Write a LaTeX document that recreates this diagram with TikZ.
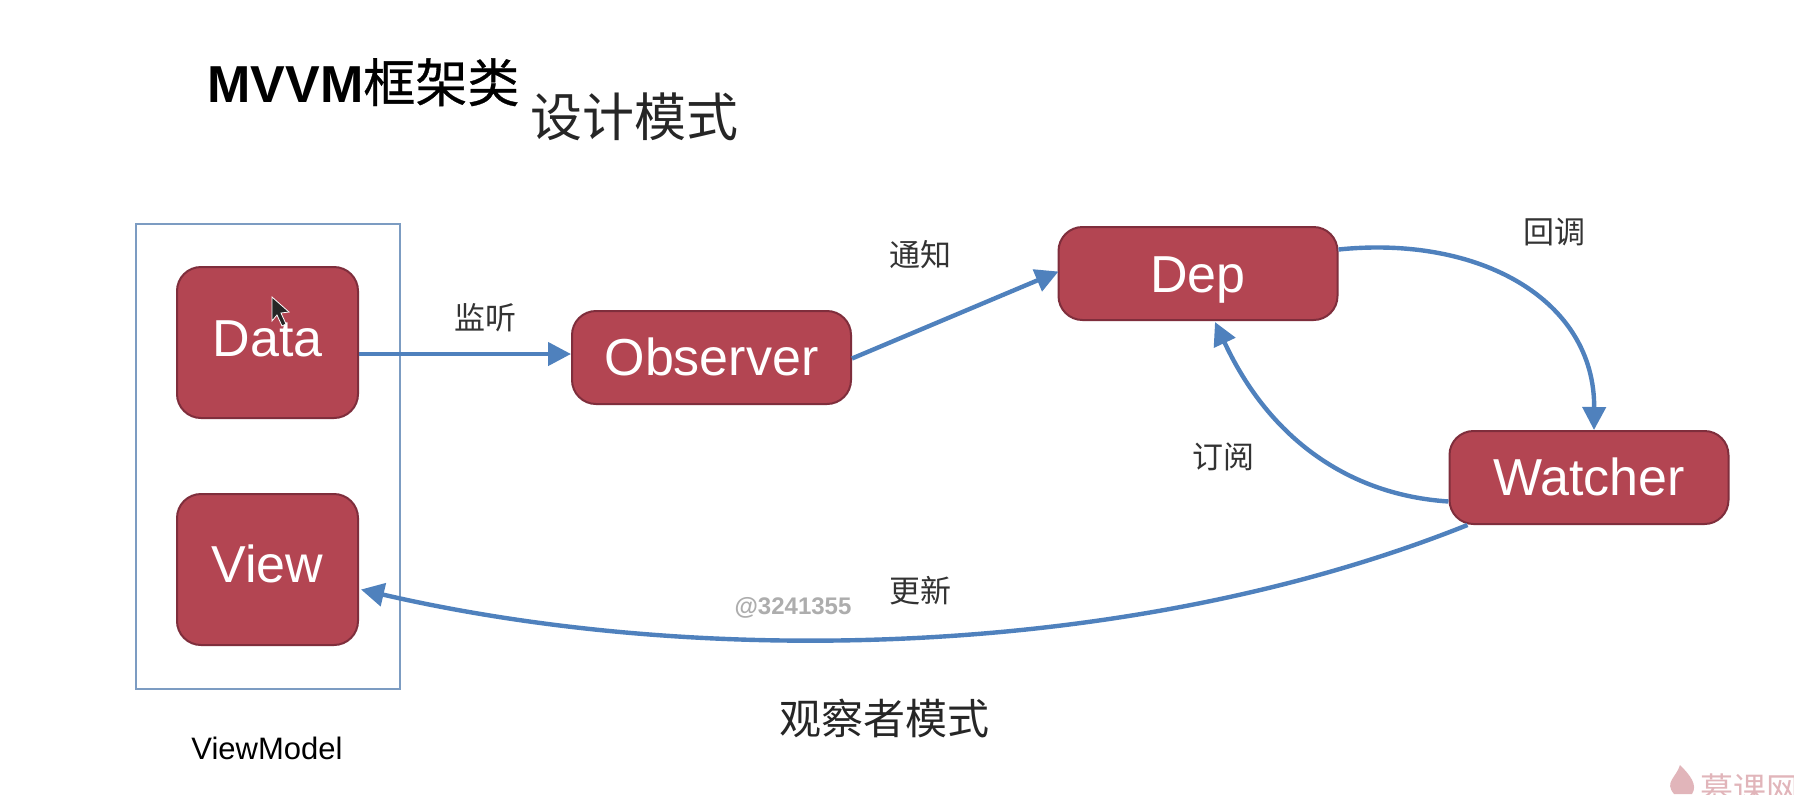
\documentclass[tikz,border=0pt]{standalone}
\usepackage{fontspec}
\setmainfont{Liberation Sans}
\newfontfamily\cjk{Noto Sans CJK SC}
\newfontfamily\cjkm[FakeBold=0.6]{Noto Sans CJK SC}
\usetikzlibrary{arrows.meta,calc}
\definecolor{boxfill}{HTML}{B34552}
\definecolor{boxline}{HTML}{7F2E3C}
\definecolor{linkblue}{HTML}{4F81BD}
\definecolor{framec}{HTML}{7C9CC2}
\newcommand{\boxtext}[2]{\smash{\raisebox{#1}{#2}}}
\tikzset{
  box/.style={draw=boxline,line width=1pt,fill=boxfill,rounded corners=12pt,text=white,inner sep=0pt,font=\fontsize{26}{26}\selectfont},
  squarebox/.style={box,minimum width=90.5pt,minimum height=75.5pt},
  widebox/.style={box,minimum width=139.5pt,minimum height=46.5pt},
  link/.style={draw=linkblue,line width=2.2pt,-{Triangle[length=11.5pt,width=11.5pt]}},
  lab/.style={inner sep=0pt,text=black!80,font=\cjk\fontsize{15.5}{15.5}\selectfont},
}
\begin{document}
\begin{tikzpicture}[x=0.5pt,y=-0.5pt]
\useasboundingbox (0,0) rectangle (1794,794);
\fill[white] (0,0) rectangle (1794,794);
\node[inner sep=0pt,anchor=base west,font=\fontsize{26}{26}\selectfont] (title) at (207,102) {\textbf{MVVM}{\cjkm 框架类}};
\node[inner sep=0pt,font=\cjk\fontsize{26}{26}\selectfont,text=black!85] (sub) at (634,117) {设计模式};
\node[draw=framec,line width=1.25pt,minimum width=132pt,minimum height=232.5pt,inner sep=0pt] (frame) at (268,456.5) {};
\node[squarebox] (data) at (267.5,342.5) {\boxtext{-6.75pt}{Data}};
\node[squarebox] (view) at (267.5,569.5) {\boxtext{-6.25pt}{View}};
\node[widebox] (obs) at (711.5,357.5) {\boxtext{-9pt}{Observer}};
\node[widebox] (dep) at (1198,273.5) {\boxtext{-9.25pt}{Dep}};
\node[widebox] (wat) at (1589,477.5) {\boxtext{-8.75pt}{Watcher}};
\node[lab] (l1) at (485,318) {监听};
\node[lab] (l2) at (920,255) {通知};
\node[lab] (l3) at (1554,232) {回调};
\node[lab] (l4) at (1223,457) {订阅};
\node[lab] (l5) at (920,591) {更新};
\node[inner sep=0pt,font=\fontsize{15.5}{15.5}\selectfont] (vm) at (267,748) {ViewModel};
\node[inner sep=0pt,font=\cjk\fontsize{21}{21}\selectfont,text=black!85] (cap) at (884,718) {观察者模式};
\node[inner sep=0pt,text=black!32,font=\bfseries\fontsize{12}{12}\selectfont] (wm) at (793,608) {@3241355};
\coordinate (d0) at ($(data.east)+(0,11.5)$);
\coordinate (d1) at ($(obs.west)+(0,-3.5)$);
\draw[link] (d0) -- (d1);
\coordinate (o0) at ($(obs.east)+(0,1)$);
\coordinate (o1) at ($(dep.west)+(1,-2)$);
\draw[link] (o0) -- (o1);
\coordinate (a) at ($(dep.east)+(0,-24)$);
\coordinate (a1) at ($(wat.north)+(5,0)$);
\draw[link] (a) .. controls (1480,235) and (1595,300) .. (a1);
\coordinate (b) at ($(wat.west)+(0,24)$);
\coordinate (bend) at ($(dep.south)+(17,1)$);
\draw[link] (b) .. controls (1350,495) and (1270,440) .. (bend);
\coordinate (c) at ($(wat.south west)+(19,0)$);
\coordinate (cend) at ($(view.east)+(2,20)$);
\draw[link] (c) .. controls (1130,660) and (700,668) .. (cend);
\fill[black!85,draw=white,line width=0.4pt] (272,297) -- (272,321) -- (277,315) -- (282,326) -- (286,324) -- (281,313) -- (289,312) -- cycle;
\begin{scope}
\clip (0,0) rectangle (1794,794);
\fill[boxfill!40] (1674,794) .. controls (1664,782) and (1676,778) .. (1680,765) .. controls (1690,775) and (1698,785) .. (1692,794) -- cycle;
\node[anchor=west,inner sep=0pt,text=boxfill!40,font=\cjk\fontsize{16.5}{16.5}\selectfont] (logo) at (1700,789) {慕课网};
\end{scope}
\end{tikzpicture}
\end{document}
